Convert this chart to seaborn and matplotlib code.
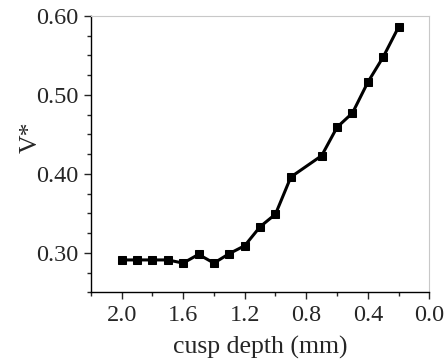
import numpy as np
import pandas as pd
import seaborn as sns
import matplotlib.pyplot as plt
from matplotlib.ticker import MultipleLocator

# data
depth = [2.0, 1.9, 1.8, 1.7, 1.6, 1.5, 1.4, 1.3, 1.2, 1.1, 1.0, 0.9, 0.7, 0.6, 0.5, 0.4, 0.3, 0.2]
v_star = [0.291, 0.291, 0.291, 0.291, 0.287, 0.298, 0.287, 0.299, 0.309, 0.333, 0.349, 0.396,
          0.423, 0.459, 0.477, 0.516, 0.548, 0.586]

df = pd.DataFrame({"depth": depth, "v": v_star})

sns.set_style("white")
plt.rcParams["font.family"] = ["Liberation Serif", "DejaVu Serif"]

fig = plt.figure(figsize=(4.45, 3.6), dpi=100)
ax = fig.add_axes([0.204, 0.188, 0.761, 0.768])

sns.lineplot(data=df, x="depth", y="v", marker="s", markersize=6, color="black",
             linewidth=2.2, markeredgecolor="black", ax=ax)

ax.set_xlim(2.2, 0.0)
ax.set_ylim(0.25, 0.60)
ax.xaxis.set_minor_locator(MultipleLocator(0.2))
ax.yaxis.set_minor_locator(MultipleLocator(0.025))
ax.set_xticks([2.0, 1.6, 1.2, 0.8, 0.4, 0.0])
ax.set_xticklabels(["2.0", "1.6", "1.2", "0.8", "0.4", "0.0"])
ax.set_yticks([0.30, 0.40, 0.50, 0.60])
ax.set_yticklabels(["0.30", "0.40", "0.50", "0.60"])

ax.tick_params(axis="both", which="major", direction="out", length=5, width=1,
               labelsize=17.5, bottom=True, left=True, pad=4)
ax.tick_params(axis="both", which="minor", direction="out", length=3, width=1,
               bottom=True, left=True)

for side in ["left", "bottom"]:
    ax.spines[side].set_color("black")
    ax.spines[side].set_linewidth(1)
for side in ["top", "right"]:
    ax.spines[side].set_color("#c8c8c8")
    ax.spines[side].set_linewidth(0.8)

ax.set_xlabel("cusp depth (mm)", fontsize=18.5, labelpad=7)
ax.set_ylabel("V*", fontsize=18.5)
ax.yaxis.set_label_coords(-0.145, 0.56)

fig.savefig("out.png", dpi=100)
